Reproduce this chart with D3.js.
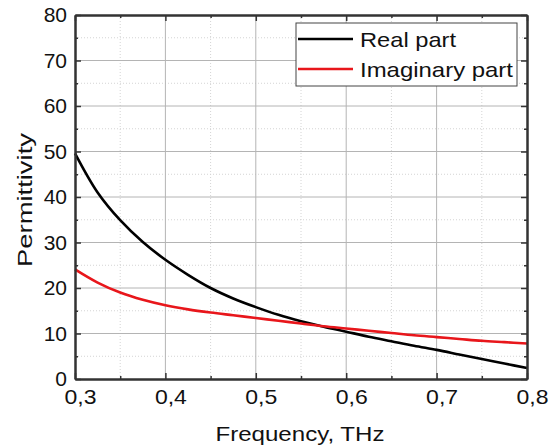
<!DOCTYPE html>
<html lang="en">
<head>
<meta charset="UTF-8">
<title>Permittivity</title>
<style>
  body { margin: 0; background: #fff; }
  svg { display: block; }
  text { font-family: "Liberation Sans", Arial, sans-serif; fill: #111; }
</style>
</head>
<body>
<svg id="chart" width="551" height="446"></svg>
<script src="https://d3js.org/d3.v7.min.js"></script>
<script>
// frequency, THz
const freq = [0.30, 0.325, 0.35, 0.375, 0.40, 0.425, 0.45, 0.475, 0.50, 0.525, 0.55,
              0.575, 0.60, 0.625, 0.65, 0.675, 0.70, 0.725, 0.75, 0.775, 0.80];
const realPart = [49.6, 41.0, 34.9, 30.1, 26.2, 22.9, 20.0, 17.7, 15.8, 14.1, 12.7,
                  11.5, 10.4, 9.3, 8.3, 7.3, 6.4, 5.4, 4.4, 3.4, 2.4];
const imagPart = [24.1, 21.2, 19.0, 17.4, 16.2, 15.3, 14.6, 14.0, 13.4, 12.8, 12.2,
                  11.6, 11.1, 10.6, 10.1, 9.6, 9.2, 8.8, 8.4, 8.1, 7.8];
const xTicks = [0.3, 0.4, 0.5, 0.6, 0.7, 0.8];
const yTicks = [0, 10, 20, 30, 40, 50, 60, 70, 80];
const seriesNames = ["Real part", "Imaginary part"];
const seriesColors = ["#000000", "#e8161b"];

const svg = d3.select("#chart");
const L = 75, R = 527, T = 15, B = 379;

const x = d3.scaleLinear().domain([0.3, 0.8]).range([L, R]);
const y = d3.scaleLinear().domain([0, 80]).range([B, T]);
const fmt = d => d3.format(".1f")(d).replace(".", ",");

// grid
const xMinor = d3.range(0.35, 0.8, 0.1);
const yMinor = d3.range(5, 80, 10);
const grid = svg.append("g");
grid.selectAll(".gxm").data(xMinor).enter().append("line")
  .attr("x1", d => x(d)).attr("x2", d => x(d)).attr("y1", T).attr("y2", B)
  .attr("stroke", "#d4d4d4").attr("stroke-dasharray", "1,2");
grid.selectAll(".gym").data(yMinor).enter().append("line")
  .attr("x1", L).attr("x2", R).attr("y1", d => y(d)).attr("y2", d => y(d))
  .attr("stroke", "#d4d4d4").attr("stroke-dasharray", "1,2");
grid.selectAll(".gx").data(xTicks.slice(1, -1)).enter().append("line")
  .attr("x1", d => x(d)).attr("x2", d => x(d)).attr("y1", T).attr("y2", B)
  .attr("stroke", "#b4b4b4");
grid.selectAll(".gy").data(yTicks.slice(1, -1)).enter().append("line")
  .attr("x1", L).attr("x2", R).attr("y1", d => y(d)).attr("y2", d => y(d))
  .attr("stroke", "#b4b4b4");

// curves
const line = d3.line().x(d => x(d[0])).y(d => y(d[1])).curve(d3.curveCatmullRom);
[realPart, imagPart].forEach((vals, i) => {
  svg.append("path")
    .datum(freq.map((f, j) => [f, vals[j]]))
    .attr("fill", "none")
    .attr("stroke", seriesColors[i])
    .attr("stroke-width", 2.6)
    .attr("d", line);
});

// axes (ticks pointing inward)
const axisStyle = g => {
  g.select(".domain").attr("stroke", "#333").attr("stroke-width", 2);
  g.selectAll(".tick line").attr("stroke", "#333").attr("stroke-width", 1.5);
  g.selectAll("text").attr("font-size", 21).attr("font-family", "Liberation Sans, Arial, sans-serif").attr("fill", "#111");
};
const minorX = d3.range(0.35, 0.8, 0.1);
const minorY = d3.range(5, 80, 10);

svg.append("g").attr("transform", `translate(0,${B})`)
  .call(d3.axisBottom(x).tickValues(xTicks).tickFormat(fmt).tickSizeInner(-6).tickSizeOuter(0).tickPadding(10))
  .call(axisStyle)
  .selectAll("text").attr("dx", 5).attr("textLength", 32).attr("lengthAdjust", "spacingAndGlyphs");
svg.append("g").attr("transform", `translate(0,${B})`)
  .call(d3.axisBottom(x).tickValues(minorX).tickFormat("").tickSizeInner(-3).tickSizeOuter(0))
  .call(axisStyle);
svg.append("g").attr("transform", `translate(0,${T})`)
  .call(d3.axisTop(x).tickValues(xTicks).tickFormat("").tickSizeInner(-6).tickSizeOuter(0))
  .call(axisStyle);
svg.append("g").attr("transform", `translate(0,${T})`)
  .call(d3.axisTop(x).tickValues(minorX).tickFormat("").tickSizeInner(-3).tickSizeOuter(0))
  .call(axisStyle);
svg.append("g").attr("transform", `translate(${L},0)`)
  .call(d3.axisLeft(y).tickValues(yTicks).tickSizeInner(-6).tickSizeOuter(0).tickPadding(8))
  .call(axisStyle);
svg.append("g").attr("transform", `translate(${L},0)`)
  .call(d3.axisLeft(y).tickValues(minorY).tickFormat("").tickSizeInner(-3).tickSizeOuter(0))
  .call(axisStyle);
svg.append("g").attr("transform", `translate(${R},0)`)
  .call(d3.axisRight(y).tickValues(yTicks).tickFormat("").tickSizeInner(-6).tickSizeOuter(0))
  .call(axisStyle);
svg.append("g").attr("transform", `translate(${R},0)`)
  .call(d3.axisRight(y).tickValues(minorY).tickFormat("").tickSizeInner(-3).tickSizeOuter(0))
  .call(axisStyle);

// axis titles
svg.append("text").attr("x", 300).attr("y", 441)
  .attr("text-anchor", "middle").attr("font-size", 21)
  .attr("textLength", 169).attr("lengthAdjust", "spacingAndGlyphs")
  .text("Frequency, THz");
svg.append("text").attr("transform", "translate(32,200) rotate(-90)")
  .attr("text-anchor", "middle").attr("font-size", 21)
  .attr("textLength", 134).attr("lengthAdjust", "spacingAndGlyphs")
  .text("Permittivity");

// legend
const legendLens = [96, 153];
const lg = svg.append("g");
lg.append("rect").attr("x", 296).attr("y", 23).attr("width", 221).attr("height", 63)
  .attr("fill", "#fff").attr("stroke", "#444").attr("stroke-width", 1);
seriesNames.forEach((name, i) => {
  const yy = 39 + i * 30;
  lg.append("line").attr("x1", 298).attr("x2", 353).attr("y1", yy).attr("y2", yy)
    .attr("stroke", seriesColors[i]).attr("stroke-width", 2.6);
  lg.append("text").attr("x", 360).attr("y", yy + 8).attr("font-size", 21)
    .attr("textLength", legendLens[i]).attr("lengthAdjust", "spacingAndGlyphs")
    .text(name);
});
</script>
</body>
</html>
